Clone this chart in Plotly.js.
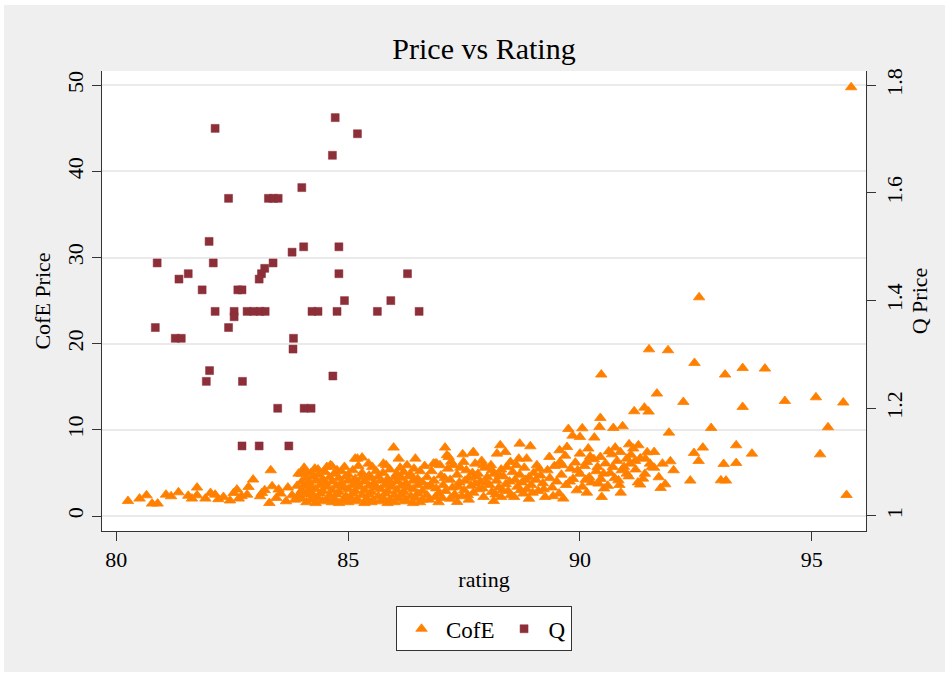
<!DOCTYPE html>
<html>
<head>
<meta charset="utf-8">
<script src="https://cdn.plot.ly/plotly-3.0.1.min.js"></script>
<style>
  html, body { margin: 0; padding: 0; background: #ffffff; }
  #chart { position: absolute; left: 4px; top: 5px; width: 941px; height: 667px; }
</style>
</head>
<body>
<div id="chart"></div>
<script>
// ---- Data ----
const xTickVals = [80, 85, 90, 95];
const yTickVals = [0, 10, 20, 30, 40, 50];
const y2TickVals = [1, 1.2, 1.4, 1.6, 1.8];
const y2TickText = ['1', '1.2', '1.4', '1.6', '1.8'];

// Q series (right axis)
const qRating = [82.13,84.72,85.20,84.66,82.42,83.28,83.39,83.49,84.00,82.00,
  84.04,84.80,83.79,80.88,82.09,83.38,83.20,83.13,83.08,81.55,
  81.35,84.80,86.28,81.85,82.62,82.71,84.92,85.92,82.13,82.54,
  82.54,82.82,82.96,83.10,83.21,84.22,84.35,84.76,85.63,86.53,
  80.84,82.42,81.27,81.40,83.82,83.81,82.01,81.94,82.72,84.67,
  83.48,84.05,84.20,82.71,83.08,83.72];
const qPrice = [1.72,1.74,1.71,1.67,1.59,1.59,1.59,1.59,1.61,1.51,
  1.50,1.50,1.49,1.47,1.47,1.47,1.46,1.45,1.44,1.45,
  1.44,1.45,1.45,1.42,1.42,1.42,1.40,1.40,1.38,1.38,
  1.37,1.38,1.38,1.38,1.38,1.38,1.38,1.38,1.38,1.38,
  1.35,1.35,1.33,1.33,1.33,1.31,1.27,1.25,1.25,1.26,
  1.20,1.20,1.20,1.13,1.13,1.13];

// CofE series (left axis)
const cofeRating = [
  80.25,80.50,80.65,80.77,80.89,81.07,81.18,81.34,81.63,81.74,
  81.74,81.92,82.03,82.13,82.31,82.53,82.60,82.64,82.82,82.85,
  82.95,83.14,83.10,83.30,83.33,83.36,83.50,83.54,83.66,83.79,
  83.93,83.85,83.97,82.45,83.20,83.70,83.45,82.70,81.55,82.20,
  84.08,84.54,84.65,84.76,85.15,85.20,85.30,85.44,85.76,85.98,
  86.09,86.27,86.45,86.88,86.91,84.35,
  84.00,84.20,84.35,84.50,84.70,84.85,85.00,85.10,85.30,85.45,85.60,85.75,85.90,86.05,86.20,86.35,86.55,
  84.10,84.25,84.45,84.60,84.80,84.95,85.15,85.30,85.50,85.65,85.85,86.00,86.15,86.30,86.50,86.70,
  84.00,84.15,84.30,84.50,84.65,84.85,85.00,85.20,85.35,85.55,85.70,85.90,86.05,86.25,86.40,86.60,
  84.05,84.20,84.40,84.55,84.75,84.90,85.10,85.25,85.45,85.60,85.80,85.95,86.15,86.30,86.50,86.70,
  84.00,84.15,84.30,84.45,84.65,84.80,85.00,85.15,85.35,85.50,85.70,85.85,86.05,86.20,86.40,86.60,
  84.10,84.25,84.40,84.60,84.75,84.95,85.10,85.30,85.45,85.65,85.80,86.00,86.15,86.35,86.50,86.70,
  84.00,84.20,84.35,84.55,84.70,84.90,85.05,85.20,85.40,85.55,85.75,85.90,86.10,86.25,86.45,86.60,
  84.10,84.30,84.45,84.65,84.80,85.00,85.15,85.35,85.50,85.70,85.85,86.00,86.20,86.40,86.55,
  83.90,83.92,84.05,84.28,84.62,84.92,85.22,85.52,85.82,86.12,86.42,86.65,
  87.09,87.47,87.70,88.28,88.39,88.70,88.93,89.34,88.78,89.25,
  88.50,88.14,87.92,87.35,87.45,87.74,87.69,87.13,88.21,87.27,
  87.74,86.84,
  87.17,87.49,87.92,88.10,88.50,88.68,88.85,89.07,89.57,
  86.80,86.85,86.90,86.95,87.00,87.05,87.10,87.15,87.20,87.25,
  87.30,87.35,87.40,87.50,87.55,87.60,87.65,87.70,87.80,87.85,
  87.90,87.95,88.00,88.05,88.10,88.15,88.20,88.25,88.30,88.35,
  88.40,88.45,88.55,88.60,88.65,88.70,88.75,88.80,88.85,88.90,
  88.95,89.00,89.05,89.10,89.15,89.20,89.30,89.35,89.40,89.45,
  89.50,89.55,
  86.75,86.95,87.20,87.60,88.30,88.90,
  86.78,86.88,86.98,87.03,87.08,87.22,87.28,87.38,87.42,87.52,
  87.58,87.68,87.75,87.82,87.88,87.98,88.08,88.18,88.27,88.33,
  88.42,88.48,88.58,88.63,88.72,88.82,88.98,89.12,89.22,89.42,
  91.49,91.90,92.47,93.13,93.51,93.99,90.46,91.66,92.23,93.51,
  94.42,95.09,95.68,91.17,91.39,91.48,90.44,90.42,90.72,90.92,
  89.75,90.05,89.84,90.00,90.31,91.92,92.83,95.35,93.37,93.71,
  92.65,92.46,92.56,93.10,93.37,95.18,92.38,93.04,93.15,95.75,
  92.02,91.84,91.74,91.36,91.30,90.88,90.47,91.95,91.78,91.60,
  91.51,91.55,91.06,91.26,91.15,91.01,91.19,91.41,91.08,90.76,
  90.69,90.87,90.71,90.90,90.83,91.01,90.51,90.40,90.18,90.00,
  89.72,89.56,90.44,90.15,89.93,90.15,89.64,95.85,92.57,
  89.60,89.70,89.80,89.85,89.90,90.00,90.05,90.10,90.20,90.25,
  90.30,90.35,90.45,90.55,90.60,90.65,90.75,90.80,90.95,91.05,
  91.10,91.20,91.25,91.30,91.40,91.45,91.60,91.70,
  89.62,89.68,89.78,89.95,90.12,90.22,90.38,90.52,90.62,90.85
];
const cofePrice = [
  1.74,2.02,2.40,1.44,1.44,2.48,2.29,2.75,2.02,3.30,
  2.40,2.02,2.67,2.48,2.21,2.67,3.07,2.02,2.48,3.37,
  4.23,2.67,2.29,1.51,5.31,3.45,3.07,2.60,1.71,2.40,
  4.92,1.90,2.70,1.80,3.00,3.30,2.10,2.30,2.35,1.95,
  5.11,5.69,5.77,5.31,6.66,6.66,6.78,6.08,6.08,7.94,
  6.66,5.89,6.66,6.08,6.08,5.40,
  4.9,5.0,4.8,5.1,4.9,5.2,4.8,5.3,5.0,4.7,5.2,5.0,5.4,4.9,5.1,4.8,5.2,
  4.4,4.6,4.3,4.5,4.4,4.6,4.3,4.5,4.4,4.6,4.3,4.5,4.4,4.6,4.3,4.5,
  4.0,3.9,4.1,3.9,4.0,3.8,4.1,3.9,4.0,3.8,4.1,3.9,4.0,3.8,4.1,3.9,
  3.5,3.4,3.6,3.4,3.5,3.3,3.6,3.4,3.5,3.3,3.6,3.4,3.5,3.3,3.6,3.4,
  3.0,2.9,3.1,2.9,3.0,2.8,3.1,2.9,3.0,2.8,3.1,2.9,3.0,2.8,3.1,2.9,
  2.5,2.4,2.6,2.4,2.5,2.3,2.6,2.4,2.5,2.3,2.6,2.4,2.5,2.3,2.6,2.4,
  2.0,1.9,2.1,1.9,2.0,1.8,2.1,1.9,2.0,1.8,2.1,1.9,2.0,1.8,2.1,1.9,
  1.6,1.5,1.7,1.6,1.5,1.6,1.7,1.5,1.6,1.7,1.5,1.6,1.7,1.5,1.6,
  3.5,2.3,5.6,5.5,5.9,5.7,5.8,5.7,5.9,5.6,5.5,5.8,
  7.94,7.16,7.43,8.21,7.43,8.40,8.09,6.85,2.60,2.21,
  2.40,1.74,2.21,1.63,2.29,3.76,7.31,7.05,7.24,5.89,
  6.08,6.08,
  6.85,6.27,5.89,5.31,6.27,6.66,6.66,5.89,6.27,
  5.2,4.1,3.2,2.6,4.7,3.6,2.9,5.5,4.2,3.3,
  2.5,4.8,3.9,3.0,5.3,4.4,3.5,2.7,4.9,4.0,
  3.2,5.6,4.5,3.6,2.8,4.9,4.1,3.3,5.4,4.6,
  3.7,2.9,5.1,4.2,3.4,4.8,3.9,5.6,3.1,4.5,
  3.6,5.0,4.2,2.9,4.7,3.8,5.3,4.4,3.3,5.8,
  4.0,2.6,
  1.9,1.6,2.0,1.9,2.2,2.0,
  3.6,2.2,5.9,2.1,4.4,6.3,2.3,3.4,5.6,4.1,
  2.4,5.0,4.6,3.1,6.4,3.9,5.9,2.5,4.7,3.0,
  5.7,4.0,2.2,5.9,3.0,4.2,2.7,5.5,3.1,2.3,
  19.35,19.24,17.77,16.42,17.18,17.11,16.42,14.21,13.24,12.66,
  13.35,13.78,13.17,12.16,12.58,12.12,11.38,10.33,10.22,10.41,
  10.10,10.18,9.33,9.17,9.10,9.68,10.22,10.30,8.21,7.24,
  7.94,7.32,6.39,6.04,6.15,7.16,4.11,4.14,4.11,2.44,
  5.31,3.68,3.25,4.34,3.65,2.71,2.21,6.35,6.08,7.43,
  6.08,5.69,8.32,8.21,7.83,6.66,6.39,6.66,6.08,7.94,
  7.16,7.43,5.69,5.31,4.14,4.92,4.92,3.76,7.83,7.24,
  8.01,7.63,6.85,6.27,2.98,2.71,2.02,49.77,25.39,
  4.8,3.6,5.5,4.3,6.2,4.9,3.4,5.8,4.5,3.9,
  6.6,5.2,4.3,6.1,3.5,5.0,4.4,6.4,5.7,4.6,
  7.1,5.4,3.9,6.7,4.9,7.4,5.6,4.5,
  5.9,7.0,4.0,5.3,4.2,6.9,5.7,3.2,7.5,3.6
];

// ---- Styles ----
const FONT = 'Liberation Serif, "Times New Roman", Times, serif';
const AXIS = '#333333';
const ORANGE = '#FF8000';
const MAROON = '#8C2F39';

const traces = [
  {
    type: 'scatter', mode: 'markers', name: 'CofE',
    x: cofeRating, y: cofePrice, yaxis: 'y',
    marker: { symbol: 'triangle-up', size: 10, color: ORANGE, line: { color: ORANGE, width: 0.8 } },
    hoverinfo: 'x+y'
  },
  {
    type: 'scatter', mode: 'markers', name: 'Q',
    x: qRating, y: qPrice, yaxis: 'y2',
    marker: { symbol: 'square', size: 8, color: MAROON, line: { color: MAROON, width: 0.5 } },
    hoverinfo: 'x+y'
  }
];

const layout = {
  width: 941, height: 667,
  paper_bgcolor: '#EFEFEF',
  plot_bgcolor: '#FFFFFF',
  margin: { l: 98, r: 79, t: 66, b: 141, pad: 0 },
  font: { family: FONT, color: '#000000', size: 22 },
  showlegend: true,
  title: {
    text: 'Price vs Rating',
    font: { family: FONT, size: 30, color: '#000000' },
    x: 0.5, xref: 'paper', xanchor: 'center',
    y: 1 - 43 / 667, yref: 'container', yanchor: 'middle'
  },
  xaxis: {
    range: [79.69, 96.17],
    tickmode: 'array', tickvals: xTickVals,
    ticks: 'outside', ticklen: 9, tickwidth: 1, tickcolor: AXIS,
    showline: true, linecolor: AXIS, linewidth: 1,
    showgrid: false, zeroline: false,
    tickfont: { family: FONT, size: 22 },
    title: { text: 'rating', font: { family: FONT, size: 22 }, standoff: 0 }
  },
  yaxis: {
    range: [-1.74, 51.66],
    tickmode: 'array', tickvals: yTickVals,
    tickangle: -90,
    ticks: 'outside', ticklen: 9, tickwidth: 1, tickcolor: AXIS,
    showline: true, linecolor: AXIS, linewidth: 1,
    showgrid: true, gridcolor: '#EAEAEA', gridwidth: 2,
    zeroline: false,
    tickfont: { family: FONT, size: 22 },
    title: { text: 'CofE Price', font: { family: FONT, size: 22 }, standoff: 6 }
  },
  yaxis2: {
    overlaying: 'y', side: 'right',
    range: [0.972, 1.8266],
    tickmode: 'array', tickvals: y2TickVals, ticktext: y2TickText,
    tickangle: -90,
    ticks: 'outside', ticklen: 9, tickwidth: 1, tickcolor: AXIS,
    showline: true, linecolor: AXIS, linewidth: 1,
    showgrid: false, zeroline: false,
    tickfont: { family: FONT, size: 22 },
    title: { text: 'Q Price', font: { family: FONT, size: 22 }, standoff: 2 }
  },
  legend: {
    orientation: 'h',
    x: 0.5, xanchor: 'center', xref: 'paper',
    y: -0.1637, yanchor: 'top', yref: 'paper',
    bgcolor: '#FFFFFF', bordercolor: AXIS, borderwidth: 1,
    font: { family: FONT, size: 23, color: '#000000' },
    itemwidth: 39
  }
};

Plotly.newPlot('chart', traces, layout, { displayModeBar: false, responsive: false, staticPlot: true });
</script>
</body>
</html>
